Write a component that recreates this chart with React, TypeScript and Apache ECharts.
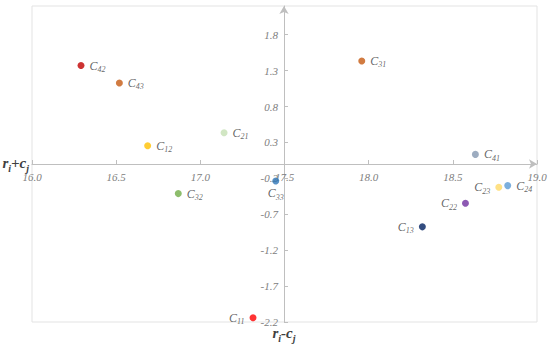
import React, { useEffect, useRef } from "react";
import * as echarts from "echarts";

// Data
const pointNames = ["11", "12", "13", "21", "22", "23", "24", "31", "32", "33", "41", "42", "43"];
const xValues = [17.313, 16.687, 18.319, 17.141, 18.575, 18.773, 18.826, 17.959, 16.869, 17.448, 18.634, 16.291, 16.519];
const yValues = [-2.14, 0.254, -0.875, 0.435, -0.546, -0.324, -0.301, 1.435, -0.412, -0.236, 0.134, 1.371, 1.129];
const pointColors = ["#FF0000", "#FFC000", "#002060", "#C5E0B4", "#7030A0", "#FFD966", "#5B9BD5", "#C55A11", "#70AD47", "#2E75B6", "#8497B0", "#C00000", "#C55A11"];
const labelSides = ["left", "right", "left", "right", "left", "left", "right", "right", "right", "bottom", "right", "right", "right"];
const xMin = 16;
const xMax = 19;
const xStep = 0.5;
const yMin = -2.2;
const yMax = 2.2;
const yTickValues = [-2.2, -1.7, -1.2, -0.7, -0.2, 0.3, 0.8, 1.3, 1.8];

const SERIF = "'Liberation Serif', 'Times New Roman', serif";

export default function App() {
  const ref = useRef<HTMLDivElement>(null);

  useEffect(() => {
    document.body.style.margin = "0";
    if (!ref.current) return;
    const chart = echarts.init(ref.current, undefined, { renderer: "svg" });

    const data = pointNames.map((n, i) => ({
      name: n,
      value: [xValues[i], yValues[i]],
      itemStyle: { color: pointColors[i] },
      label: {
        position: labelSides[i] as any,
        distance: labelSides[i] === "bottom" ? 1 : 5,
      },
    }));

    const axisNameRich = {
      m: { fontFamily: SERIF, fontStyle: "italic", fontWeight: "bold", fontSize: 15, color: "#404040", lineHeight: 18, verticalAlign: "top" },
      s: { fontFamily: SERIF, fontStyle: "italic", fontWeight: "bold", fontSize: 10, color: "#404040", lineHeight: 12, verticalAlign: "bottom" },
    };

    const tickLabel = {
      color: "#808080",
      fontStyle: "italic",
      fontFamily: SERIF,
      fontSize: 11,
    };

    chart.setOption({
      animation: false,
      backgroundColor: "#ffffff",
      grid: {
        left: 32,
        right: 13,
        top: 6,
        bottom: 24,
        show: true,
        borderColor: "#E3E3E3",
        borderWidth: 1,
        containLabel: false,
        outerBoundsMode: "none",
      },
      xAxis: {
        type: "value",
        min: xMin,
        max: xMax,
        interval: xStep,
        position: "bottom",
        offset: -158,
        name: "{m|r}{s|i}{m|+c}{s|j}",
        nameLocation: "start",
        nameGap: 3,
        nameMoveOverlap: false,
        nameTextStyle: { rich: axisNameRich },
        axisLine: {
          show: true,
          onZero: false,
          symbol: ["none", "arrow"],
          symbolSize: [7, 8],
          lineStyle: { color: "#BFBFBF", width: 1 },
        },
        axisTick: { show: true, inside: true, length: 4, lineStyle: { color: "#BFBFBF" } },
        axisLabel: { ...tickLabel, margin: 7, formatter: (v: number) => v.toFixed(1) },
        splitLine: { show: false },
      },
      yAxis: {
        type: "value",
        min: yMin,
        max: yMax,
        position: "left",
        offset: -252,
        name: "{m|r}{s|i}{m|-c}{s|j}",
        nameLocation: "start",
        nameGap: 3,
        nameMoveOverlap: false,
        nameTextStyle: { rich: axisNameRich },
        axisLine: {
          show: true,
          onZero: false,
          symbol: ["none", "arrow"],
          symbolSize: [7, 8],
          lineStyle: { color: "#BFBFBF", width: 1 },
        },
        axisTick: { show: true, inside: true, length: 4, customValues: yTickValues, lineStyle: { color: "#BFBFBF" } },
        axisLabel: { ...tickLabel, margin: 6, customValues: yTickValues, formatter: (v: number) => v.toFixed(1) },
        splitLine: { show: false },
      },
      series: [
        {
          type: "scatter",
          symbol: "circle",
          symbolSize: 7,
          data,
          label: {
            show: true,
            color: "#404040",
            formatter: (p: any) => `{c|C}{s|${p.name}}`,
            rich: {
              c: { fontFamily: SERIF, fontStyle: "italic", fontSize: 12, color: "#404040", lineHeight: 16 },
              s: { fontFamily: SERIF, fontStyle: "italic", fontSize: 8, color: "#404040", lineHeight: 10, verticalAlign: "bottom" },
            },
          },
        },
      ],
    });

    return () => chart.dispose();
  }, []);

  return <div ref={ref} style={{ width: 550, height: 346 }} />;
}
